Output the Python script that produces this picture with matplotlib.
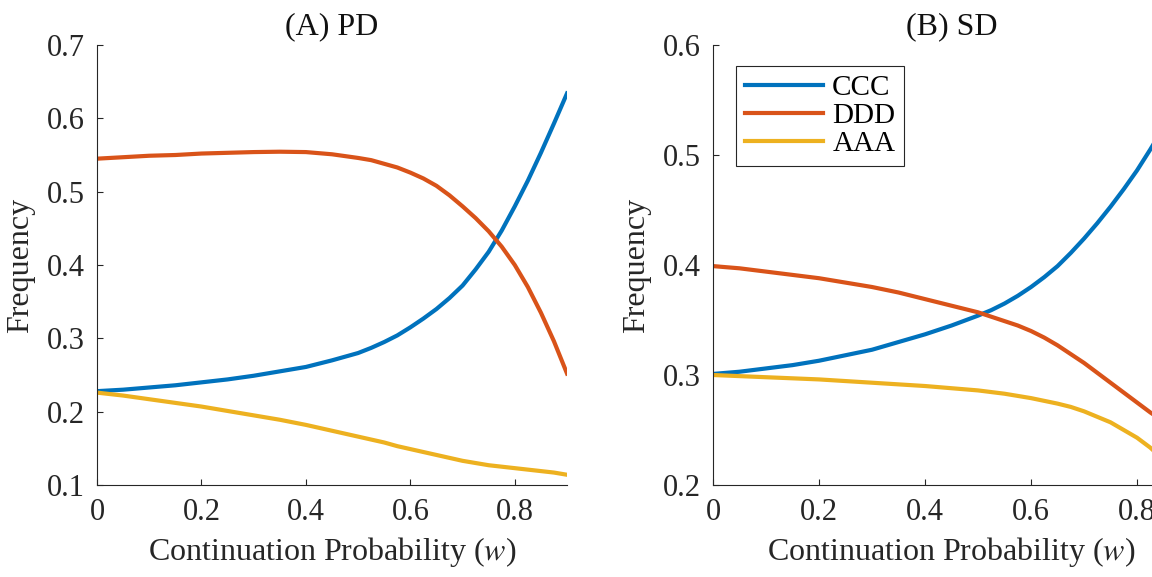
import numpy as np
import matplotlib
matplotlib.use("Agg")
import matplotlib.pyplot as plt

plt.rcParams['font.family'] = ['Liberation Serif', 'DejaVu Serif']
plt.rcParams['mathtext.fontset'] = 'stix'

# continuation probability w (denser where the curves bend)
w = [0.0, 0.05, 0.1, 0.15, 0.2, 0.25, 0.3, 0.35, 0.4, 0.45, 0.5,
     0.525, 0.55, 0.575, 0.6, 0.625, 0.65, 0.675, 0.7, 0.725, 0.75,
     0.775, 0.8, 0.825, 0.85, 0.875, 0.9]

# (A) PD
pd_ccc = [0.228, 0.230, 0.233, 0.236, 0.240, 0.244, 0.249, 0.255, 0.261, 0.270, 0.280,
          0.287, 0.295, 0.304, 0.315, 0.327, 0.340, 0.355, 0.372, 0.394, 0.418,
          0.447, 0.480, 0.515, 0.553, 0.593, 0.634]
pd_ddd = [0.545, 0.547, 0.549, 0.550, 0.552, 0.553, 0.554, 0.5545, 0.554, 0.551, 0.546,
          0.543, 0.538, 0.533, 0.526, 0.518, 0.508, 0.495, 0.480, 0.464, 0.446,
          0.425, 0.400, 0.370, 0.335, 0.296, 0.252]
pd_aaa = [0.226, 0.222, 0.217, 0.212, 0.207, 0.201, 0.195, 0.189, 0.182, 0.174, 0.166,
          0.162, 0.158, 0.153, 0.149, 0.145, 0.141, 0.137, 0.133, 0.130, 0.127,
          0.125, 0.123, 0.121, 0.119, 0.117, 0.114]

# (B) SD
sd_ccc = [0.301, 0.303, 0.306, 0.309, 0.313, 0.318, 0.323, 0.330, 0.337, 0.345, 0.354,
          0.359, 0.365, 0.372, 0.380, 0.389, 0.399, 0.411, 0.424, 0.438, 0.453,
          0.469, 0.486, 0.505, 0.525, 0.546, 0.568]
sd_ddd = [0.399, 0.397, 0.394, 0.391, 0.388, 0.384, 0.380, 0.375, 0.369, 0.363, 0.357,
          0.353, 0.349, 0.345, 0.340, 0.334, 0.327, 0.319, 0.311, 0.302, 0.293,
          0.284, 0.275, 0.266, 0.258, 0.250, 0.242]
sd_aaa = [0.300, 0.299, 0.298, 0.297, 0.296, 0.2945, 0.293, 0.2915, 0.290, 0.288, 0.286,
          0.2845, 0.283, 0.281, 0.279, 0.2765, 0.274, 0.271, 0.267, 0.262, 0.257,
          0.250, 0.243, 0.234, 0.223, 0.210, 0.195]

labels = ['CCC', 'DDD', 'AAA']
colors = ['#0072BD', '#D95319', '#EDB120']
axcol = '#262626'

fig = plt.figure(figsize=(11.52, 5.77), dpi=100)
ax1 = fig.add_axes([0.0842, 0.1594, 0.408, 0.7626])
ax2 = fig.add_axes([0.619, 0.1594, 0.414, 0.7626])

panels = [
    (ax1, '(A) PD', [pd_ccc, pd_ddd, pd_aaa], (0.1, 0.7), np.arange(0.1, 0.71, 0.1)),
    (ax2, '(B) SD', [sd_ccc, sd_ddd, sd_aaa], (0.2, 0.6), np.arange(0.2, 0.61, 0.1)),
]

for ax, title, series, ylim, yt in panels:
    for vals, lab, c in zip(series, labels, colors):
        ax.plot(w, vals, color=c, lw=3.0, label=lab, solid_joinstyle='round')
    ax.set_xlim(0, 0.9)
    ax.set_ylim(*ylim)
    ax.set_xticks([0, 0.2, 0.4, 0.6, 0.8])
    ax.set_xticklabels(['0', '0.2', '0.4', '0.6', '0.8'])
    ax.set_yticks(yt)
    ax.set_yticklabels([f'{v:.1f}' for v in yt])
    ax.spines['top'].set_visible(False)
    ax.spines['right'].set_visible(False)
    for s in ['left', 'bottom']:
        ax.spines[s].set_color(axcol)
        ax.spines[s].set_linewidth(0.8)
    ax.tick_params(direction='in', length=4, width=0.8, colors=axcol,
                   labelsize=22, pad=9)
    ax.set_title(title, fontsize=23, color='#111111', pad=8)
    ax.set_xlabel(r'Continuation Probability ($\it{w}$)', fontsize=23, color=axcol, labelpad=6)
    ax.set_ylabel('Frequency', fontsize=23, color=axcol, labelpad=8)

leg = ax2.legend(loc='upper left', bbox_to_anchor=(0.048, 0.952), borderaxespad=0,
                 fontsize=21, handlelength=2.7, handletextpad=0.3, labelspacing=0.05,
                 borderpad=0.3, fancybox=False, framealpha=1)
leg.get_frame().set_edgecolor(axcol)
leg.get_frame().set_linewidth(0.8)

fig.savefig('out.png', dpi=100)
